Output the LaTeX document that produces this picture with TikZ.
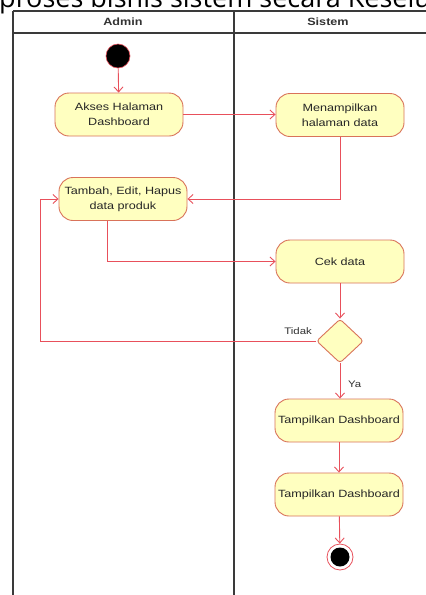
\documentclass[tikz,border=0pt]{standalone}
\usepackage{fontspec}
\setmainfont{Liberation Sans}
\newfontfamily\nodefont[FakeStretch=1.2]{Liberation Sans}
\newfontfamily\titlefont{Open Sans}
\usetikzlibrary{shapes.geometric,arrows.meta}

\definecolor{actfill}{HTML}{FFFFC0}
\definecolor{actline}{HTML}{D9735A}
\definecolor{flowcol}{HTML}{E8505B}
\definecolor{lanecol}{HTML}{3A3A3A}

\tikzset{
  x=1pt, y=-1pt,
  act/.style={draw=actline, fill=actfill, line width=0.9pt, rounded corners=14pt,
    minimum width=128pt, minimum height=43pt, align=center, inner sep=1pt,
    font=\nodefont\fontsize{10.5}{15}\selectfont, text=black!85},
  decision/.style={diamond, draw=actline, fill=actfill, line width=0.9pt,
    rounded corners=3pt, minimum width=47pt, minimum height=44pt, inner sep=0pt},
  startstate/.style={circle, fill=black, draw=flowcol, line width=0.6pt,
    minimum size=24pt, inner sep=0pt},
  endstate/.style={circle, fill=white, draw=flowcol, line width=0.8pt,
    minimum size=26pt, inner sep=0pt},
  flow/.style={draw=flowcol, line width=0.9pt,
    -{Straight Barb[length=5pt,width=9pt]}},
  lane/.style={draw=lanecol, line width=1.1pt},
  lanehead/.style={font=\nodefont\bfseries\fontsize{10.5}{12}\selectfont, text=black!80},
  guard/.style={font=\nodefont\fontsize{9.5}{11}\selectfont, text=black!80, inner sep=1pt}
}

\begin{document}
\begin{tikzpicture}
\useasboundingbox (0,0) rectangle (426,595);
\clip (0,0) rectangle (426,595);
\fill[white] (0,0) rectangle (426,595);

% heading line of the page, cut by the top edge
\node[anchor=base west, inner sep=0pt, font=\titlefont\fontsize{27}{30}\selectfont]
  (title) at (-1,7) {proses bisnis sistem secara Keseluruhan};

% swimlanes
\draw[lane] (13,11) -- (440,11);
\draw[lane] (13,33) -- (440,33);
\draw[lane] (13,11) -- (13,600);
\draw[lane] (234,11) -- (234,600);
\node[lanehead] (hadmin) at (123,22) {Admin};
\node[lanehead] (hsistem) at (328,22) {Sistem};

% states and activities
\node[startstate] (start) at (118,56) {};
\node[act] (akses) at (119,114.5) {Akses Halaman\\Dashboard};
\node[act] (tampil) at (340,115) {Menampilkan\\halaman data};
\node[act] (crud) at (123,199) {Tambah, Edit, Hapus\\data produk};
\node[act] (cek) at (340,261.5) {Cek data};
\node[decision] (dec) at (340,341) {};
\node[act] (dash1) at (339,420.5) {Tampilkan Dashboard};
\node[act] (dash2) at (339,494.5) {Tampilkan Dashboard};
\node[endstate] (stop) at (340,557) {};
\fill[black] (stop.center) circle (9.5pt);

\coordinate (loop) at (40,341);

% control flow
\draw[flow] (start) -- (akses);
\draw[flow] (akses.east) -- (akses.east -| tampil.west);
\draw[flow] (tampil.south) |- (crud.east);
\draw[flow] ([xshift=-16pt]crud.south) |- (cek.west);
\draw[flow] (cek) -- (dec);
\draw[flow] (dec.west) -- (loop) |- (crud.west);
\node[guard, anchor=south east] (tidak) at (313,336) {Tidak};
\draw[flow] (dec.south) -- (dash1.north -| dec.south);
\node[guard, anchor=west] (ya) at (347,384) {Ya};
\draw[flow] (dash1) -- (dash2);
\draw[flow] (dash2) -- (stop);
\end{tikzpicture}
\end{document}
